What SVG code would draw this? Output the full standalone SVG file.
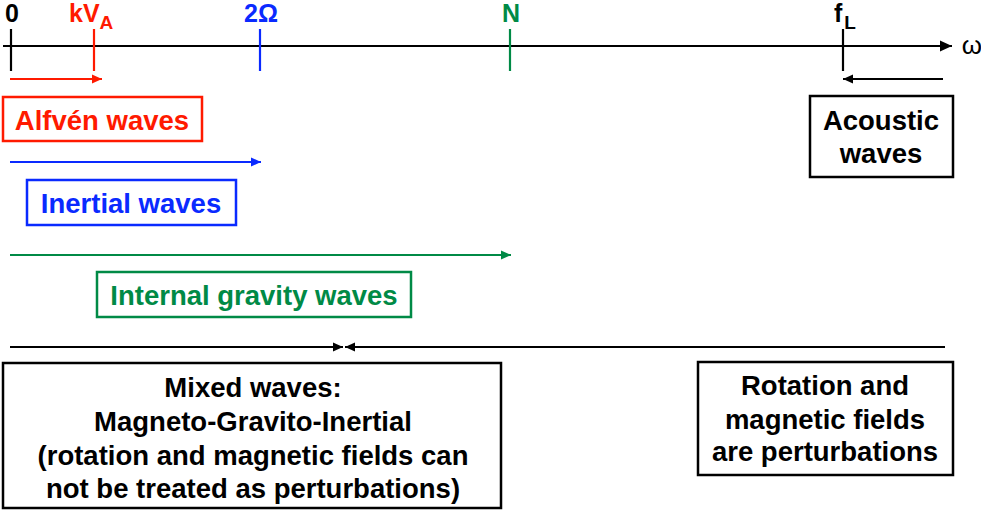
<svg xmlns="http://www.w3.org/2000/svg" width="981" height="510" viewBox="0 0 981 510">
<style>
text{font-family:"Liberation Sans",Arial,sans-serif;font-weight:bold;text-anchor:middle}
.lbl{font-size:25px}
.st{text-anchor:start}
.box{font-size:27.5px}
.r{fill:#ff1a00}.b{fill:#0a2aff}.g{fill:#008a46}.k{fill:#000}
.sr{stroke:#ff1a00}.sb{stroke:#0a2aff}.sg{stroke:#008a46}.sk{stroke:#000}
line{stroke-width:2.2;fill:none}
rect{fill:#fff;stroke-width:2.5}
</style>
<defs>
<marker id="ak" markerUnits="userSpaceOnUse" markerWidth="12" markerHeight="12" viewBox="0 0 10 10" refX="10" refY="5" orient="auto"><path d="M0,0.5 L10,5 L0,9.5 Z" fill="#000"/></marker>
<marker id="ar" markerUnits="userSpaceOnUse" markerWidth="10" markerHeight="10" viewBox="0 0 10 10" refX="10" refY="5" orient="auto"><path d="M0,0.5 L10,5 L0,9.5 Z" fill="#ff1a00"/></marker>
<marker id="ab" markerUnits="userSpaceOnUse" markerWidth="10" markerHeight="10" viewBox="0 0 10 10" refX="10" refY="5" orient="auto"><path d="M0,0.5 L10,5 L0,9.5 Z" fill="#0a2aff"/></marker>
<marker id="ag" markerUnits="userSpaceOnUse" markerWidth="10" markerHeight="10" viewBox="0 0 10 10" refX="10" refY="5" orient="auto"><path d="M0,0.5 L10,5 L0,9.5 Z" fill="#008a46"/></marker>
<marker id="ak2" markerUnits="userSpaceOnUse" markerWidth="10" markerHeight="10" viewBox="0 0 10 10" refX="10" refY="5" orient="auto"><path d="M0,0.5 L10,5 L0,9.5 Z" fill="#000"/></marker>
</defs>

<g id="axis">
<line class="sk" x1="3" y1="46" x2="952" y2="46" marker-end="url(#ak)"/>
<text x="972" y="54" style="font-weight:normal;font-size:26px" class="k">ω</text>
</g>
<g id="tick-0"><line class="sk" x1="11" y1="29" x2="11" y2="71"/><text class="lbl k" x="12" y="22">0</text></g>
<g id="tick-kVA"><line class="sr" x1="94" y1="29" x2="94" y2="71"/><text class="lbl r st" x="69" y="22">kV<tspan font-size="19" dy="7">A</tspan></text></g>
<g id="tick-2Omega"><line class="sb" x1="260" y1="29" x2="260" y2="71"/><text class="lbl b" x="261" y="22">2Ω</text></g>
<g id="tick-N"><line class="sg" x1="510" y1="29" x2="510" y2="71"/><text class="lbl g" x="511" y="22">N</text></g>
<g id="tick-fL"><line class="sk" x1="843" y1="29" x2="843" y2="71"/><text class="lbl k st" x="834" y="22">f<tspan font-size="19" dx="2" dy="7">L</tspan></text></g>

<g id="connectors">
<line class="sr" x1="10" y1="79" x2="102" y2="79" marker-end="url(#ar)"/>
<line class="sk" x1="943" y1="79" x2="843" y2="79" marker-end="url(#ak2)"/>
<line class="sb" x1="10" y1="162" x2="261" y2="162" marker-end="url(#ab)"/>
<line class="sg" x1="10" y1="255" x2="511" y2="255" marker-end="url(#ag)"/>
<line class="sk" x1="10" y1="347" x2="343" y2="347" marker-end="url(#ak2)"/>
<line class="sk" x1="945" y1="347" x2="345" y2="347" marker-end="url(#ak2)"/>
</g>

<g id="alfven"><rect class="sr" x="3" y="97" width="199" height="44"/><text class="box r" x="102" y="130">Alfvén waves</text></g>
<g id="inertial"><rect class="sb" x="27" y="180" width="209" height="45"/><text class="box b" x="131" y="213">Inertial waves</text></g>
<g id="gravity"><rect class="sg" x="97" y="272" width="314" height="45"/><text class="box g" x="254" y="305">Internal gravity waves</text></g>
<g id="acoustic"><rect class="sk" x="810" y="96" width="143" height="81"/><text class="box k" x="881" y="130">Acoustic</text><text class="box k" x="881" y="163">waves</text></g>
<g id="mixed"><rect class="sk" x="3" y="363" width="498" height="145"/>
<text class="box k" x="253" y="397">Mixed waves:</text>
<text class="box k" x="253" y="431">Magneto-Gravito-Inertial</text>
<text class="box k" x="253" y="465">(rotation and magnetic fields can</text>
<text class="box k" x="253" y="498">not be treated as perturbations)</text>
</g>
<g id="perturb"><rect class="sk" x="698" y="362" width="255" height="113"/>
<text class="box k" x="825" y="395">Rotation and</text>
<text class="box k" x="825" y="429">magnetic fields</text>
<text class="box k" x="825" y="461">are perturbations</text>
</g>
</svg>
